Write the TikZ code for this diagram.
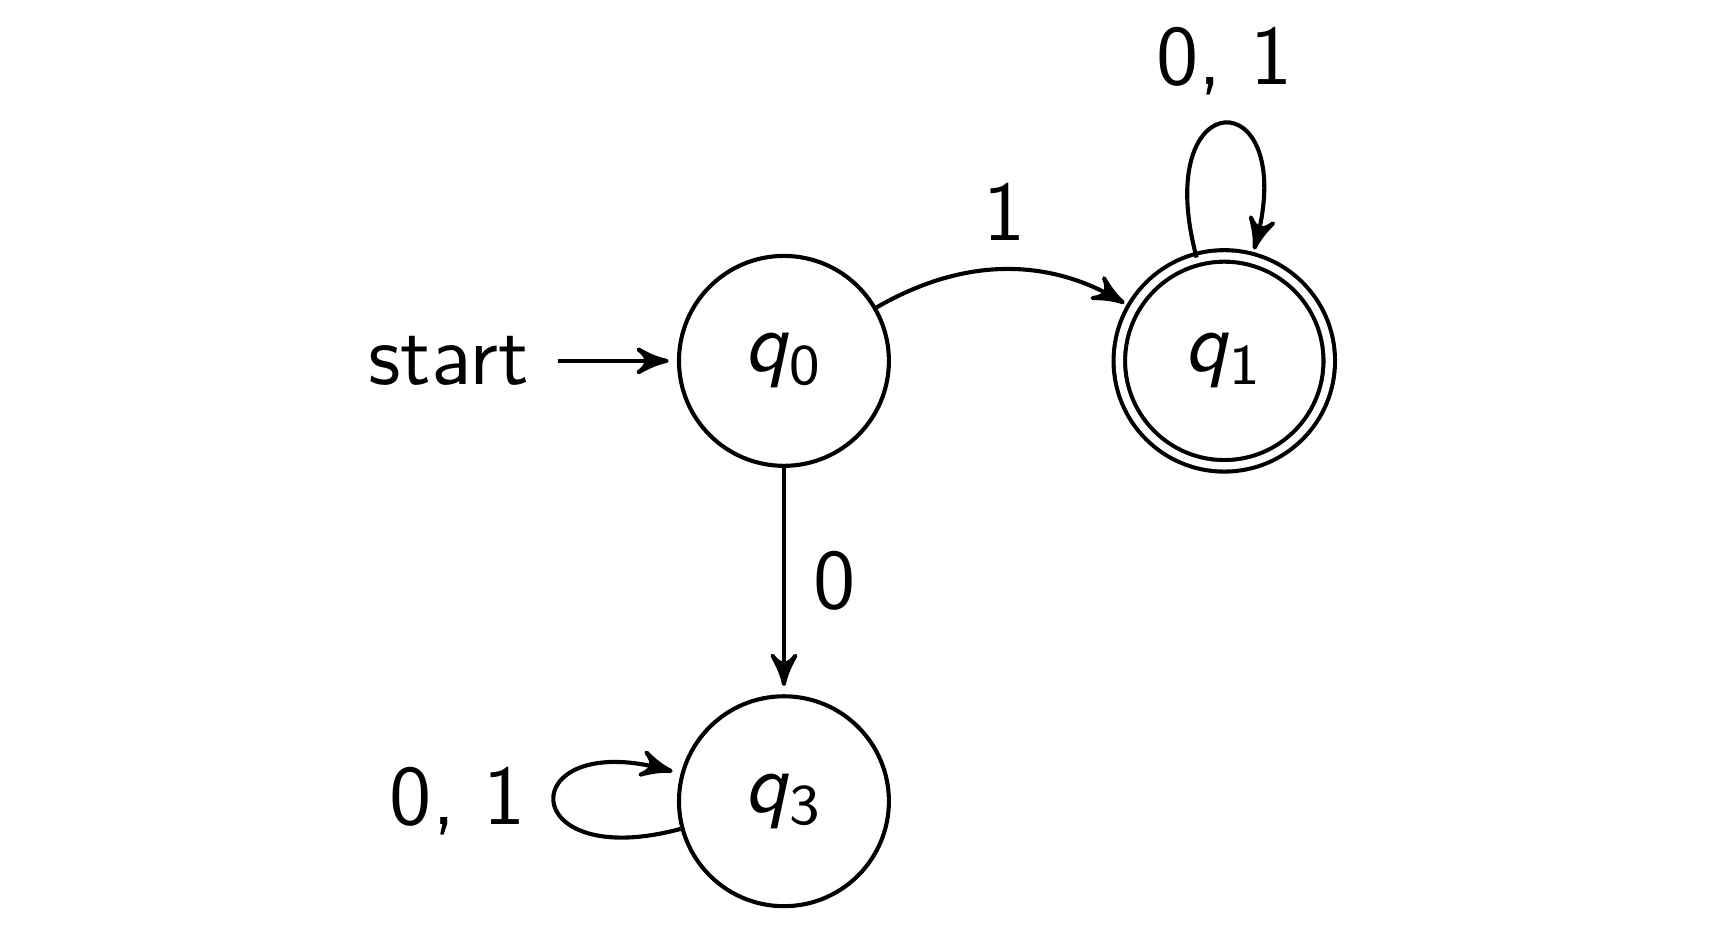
\documentclass[tikz,border=0pt]{standalone}
\usepackage{tikz}
\usetikzlibrary{automata, positioning, arrows}

\newcommand{\qname}[1]{\textit{q}$_{\mathsf{#1}}$}

\begin{document}
\begin{tikzpicture}[
    font=\fontsize{10.3pt}{12pt}\sffamily,
    on grid, node distance=53.7pt,
    line width=0.5pt,
    >=stealth', shorten >=1pt,
    every state/.style={minimum size=25.6pt},
    accepting/.style={double, double distance=0.9pt},
    initial text=start, initial distance=14.5pt,
    trans/.style={->},
  ]

  \node[state, initial] (q0) {\qname{0}};
  \node[state, accepting, right=of q0] (q1) {\qname{1}};
  \node[state, below=of q0] (q3) {\qname{3}};

  \path[trans] (q0) edge[bend left] node[auto] {1} (q1)
               (q0) edge node[auto] {0} (q3)
               (q1) edge[loop above, every loop/.append style={looseness=8.5}] node[auto] {0, 1} ()
               (q3) edge[loop left] node[auto] {0, 1} ();

  \useasboundingbox ([shift={(-95.6pt,44pt)}]q0.center) rectangle ++(211.7pt,-114.6pt);
\end{tikzpicture}
\end{document}
